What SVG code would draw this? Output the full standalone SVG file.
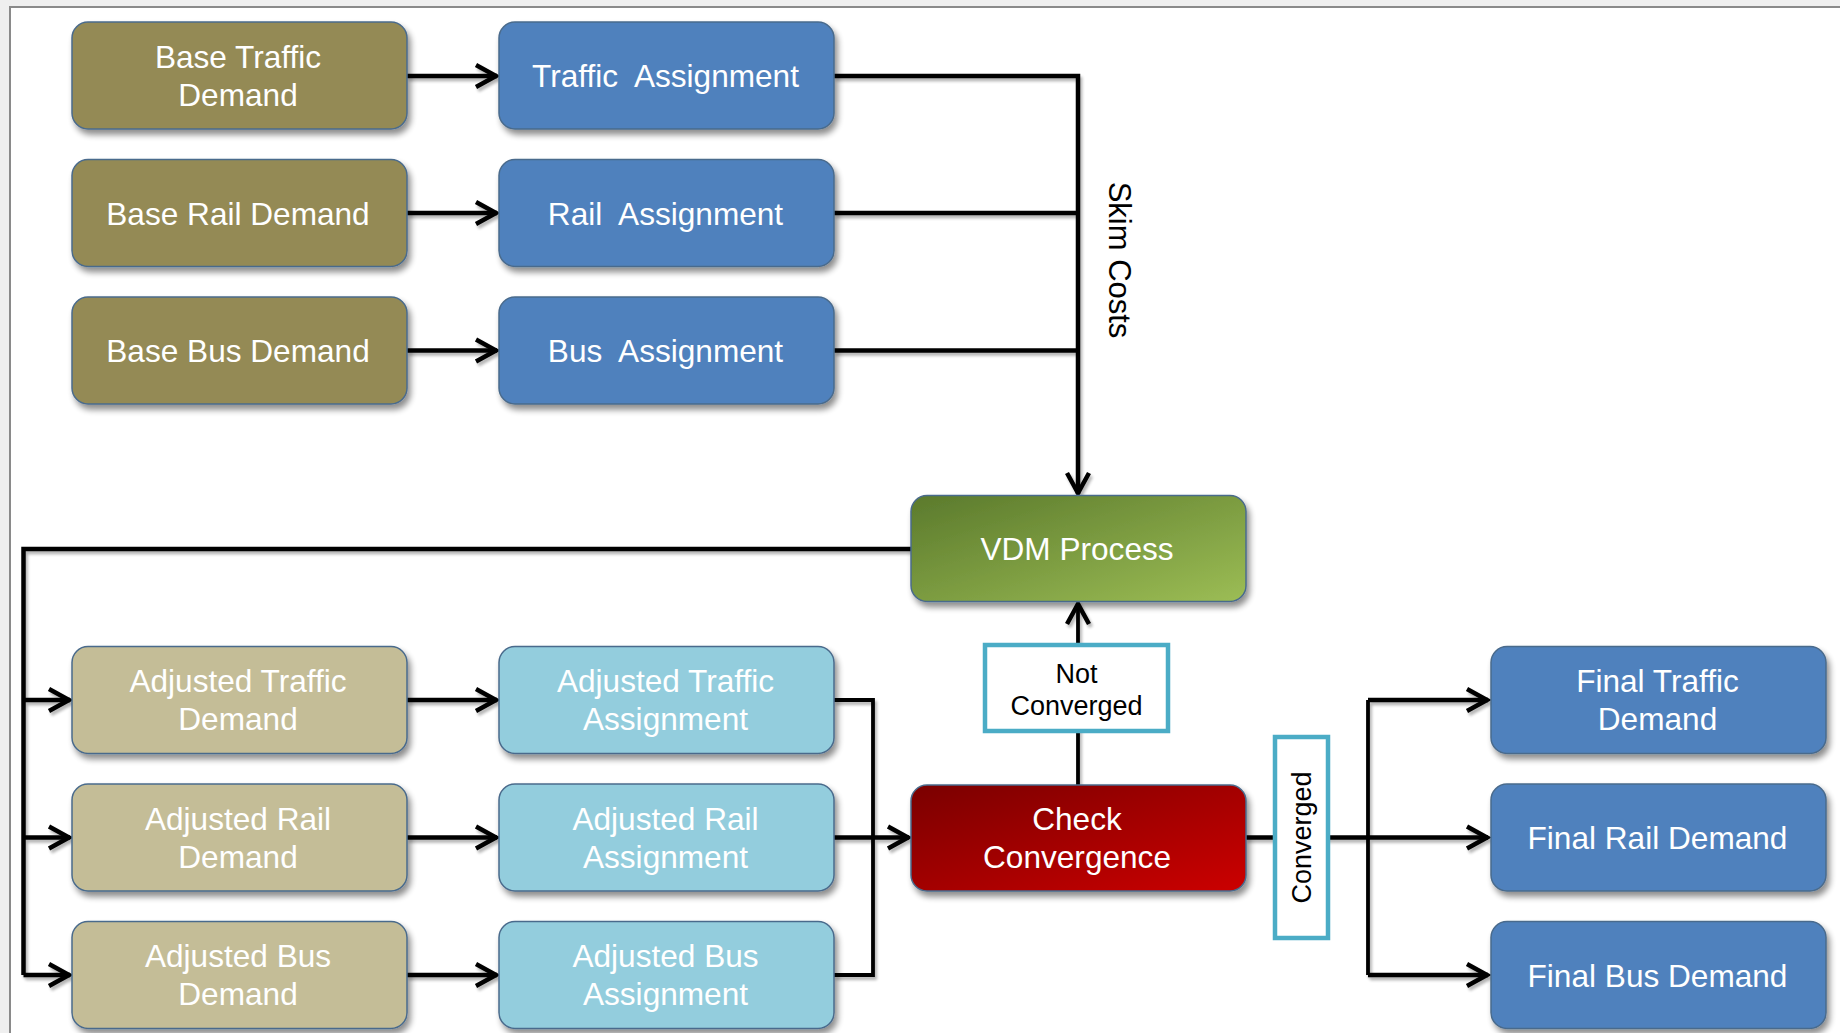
<svg xmlns="http://www.w3.org/2000/svg" width="1840" height="1033" viewBox="0 0 1840 1033">
<style>
.node{stroke:#4a6b8c;stroke-width:1.5;filter:url(#sh)}
.olive{fill:#948A54}
.blue{fill:#4F81BD}
.tan{fill:#C4BD97}
.lblue{fill:#93CDDD}
.t{font-family:"Liberation Sans",Arial,sans-serif;font-size:31.6px;fill:#ffffff;text-anchor:middle;white-space:pre}
.lbl{font-family:"Liberation Sans",Arial,sans-serif;font-size:27px;fill:#000000;text-anchor:middle}
.c{fill:none;stroke:#000;stroke-width:4.5;stroke-linejoin:miter}
.c3{fill:none;stroke:#000;stroke-width:3.8}
.lbox{fill:#ffffff;stroke:#4BACC6;stroke-width:4.5}
</style>
<defs>
<filter id="sh" x="-10%" y="-10%" width="130%" height="140%">
<feGaussianBlur in="SourceAlpha" stdDeviation="3"/>
<feOffset dx="3" dy="5" result="b"/>
<feComponentTransfer><feFuncA type="linear" slope="0.45"/></feComponentTransfer>
<feMerge><feMergeNode/><feMergeNode in="SourceGraphic"/></feMerge>
</filter>
<filter id="lsh" x="-5%" y="-5%" width="110%" height="110%">
<feGaussianBlur in="SourceAlpha" stdDeviation="1.5"/>
<feOffset dx="2" dy="3" result="b"/>
<feComponentTransfer><feFuncA type="linear" slope="0.3"/></feComponentTransfer>
<feMerge><feMergeNode/><feMergeNode in="SourceGraphic"/></feMerge>
</filter>
<linearGradient id="gGreen" x1="0" y1="0" x2="1" y2="1">
<stop offset="0" stop-color="#5B7A2C"/>
<stop offset="1" stop-color="#9CBD55"/>
</linearGradient>
<linearGradient id="gRed" x1="0" y1="0" x2="1" y2="1">
<stop offset="0" stop-color="#7A0000"/>
<stop offset="1" stop-color="#CC0000"/>
</linearGradient>
<marker id="arr" markerUnits="userSpaceOnUse" viewBox="-26 -14 30 28" refX="0" refY="0" markerWidth="30" markerHeight="28" orient="auto" overflow="visible">
<path d="M-21,-11 L-1,0 L-21,11" fill="none" stroke="#000" stroke-width="4.5"/>
</marker>
</defs>
<rect x="0" y="0" width="1840" height="1033" fill="#efefef"/>
<rect x="10" y="7" width="1850" height="1050" fill="#ffffff" stroke="#8a8a8a" stroke-width="2"/>

<g id="connectors" filter="url(#lsh)">
<path class="c" d="M407,76 H497" marker-end="url(#arr)"/>
<path class="c" d="M407,213 H497" marker-end="url(#arr)"/>
<path class="c" d="M407,350.5 H497" marker-end="url(#arr)"/>
<path class="c" d="M834,76 H1078 V494" marker-end="url(#arr)"/>
<path class="c" d="M834,213 H1078"/>
<path class="c" d="M834,350.5 H1078"/>
<path class="c" d="M911,549 H23.5 V975"/>
<path class="c" d="M23.5,700 H70" marker-end="url(#arr)"/>
<path class="c" d="M23.5,837.5 H70" marker-end="url(#arr)"/>
<path class="c" d="M23.5,975 H70" marker-end="url(#arr)"/>
<path class="c" d="M407,700 H497" marker-end="url(#arr)"/>
<path class="c" d="M407,837.5 H497" marker-end="url(#arr)"/>
<path class="c" d="M407,975 H497" marker-end="url(#arr)"/>
<path class="c3" d="M834,700 H873 V975 H834"/>
<path class="c" d="M834,837.5 H909" marker-end="url(#arr)"/>
<path class="c3" d="M1078,785 V603" marker-end="url(#arr)"/>
<path class="c" d="M1245.5,837.5 H1368"/>
<path class="c3" d="M1368,700 V975"/>
<path class="c" d="M1368,700 H1488" marker-end="url(#arr)"/>
<path class="c" d="M1368,837.5 H1488" marker-end="url(#arr)"/>
<path class="c" d="M1368,975 H1488" marker-end="url(#arr)"/>
</g>

<g id="skim-costs-label">
<text class="lbl" style="font-size:31px" transform="translate(1109,260) rotate(90)">Skim Costs</text>
</g>

<g id="base-traffic-demand">
<rect class="node olive" x="72" y="22" width="335" height="107" rx="16"/>
<text class="t" x="238" y="68">Base Traffic</text>
<text class="t" x="238" y="106">Demand</text>
</g>
<g id="traffic-assignment">
<rect class="node blue" x="499" y="22" width="335" height="107" rx="16"/>
<text class="t" x="665.5" y="87">Traffic  Assignment</text>
</g>
<g id="base-rail-demand">
<rect class="node olive" x="72" y="159.5" width="335" height="107" rx="16"/>
<text class="t" x="238" y="224.5">Base Rail Demand</text>
</g>
<g id="rail-assignment">
<rect class="node blue" x="499" y="159.5" width="335" height="107" rx="16"/>
<text class="t" x="665.5" y="224.5">Rail  Assignment</text>
</g>
<g id="base-bus-demand">
<rect class="node olive" x="72" y="297" width="335" height="107" rx="16"/>
<text class="t" x="238" y="362">Base Bus Demand</text>
</g>
<g id="bus-assignment">
<rect class="node blue" x="499" y="297" width="335" height="107" rx="16"/>
<text class="t" x="665.5" y="362">Bus  Assignment</text>
</g>

<g id="vdm-process">
<rect class="node" fill="url(#gGreen)" x="911" y="495.5" width="335" height="106" rx="16"/>
<text class="t" x="1077" y="560">VDM Process</text>
</g>

<g id="adjusted-traffic-demand">
<rect class="node tan" x="72" y="646.5" width="335" height="107" rx="16"/>
<text class="t" x="238" y="692">Adjusted Traffic</text>
<text class="t" x="238" y="730">Demand</text>
</g>
<g id="adjusted-traffic-assignment">
<rect class="node lblue" x="499" y="646.5" width="335" height="107" rx="16"/>
<text class="t" x="665.5" y="692">Adjusted Traffic</text>
<text class="t" x="665.5" y="730">Assignment</text>
</g>
<g id="adjusted-rail-demand">
<rect class="node tan" x="72" y="784" width="335" height="107" rx="16"/>
<text class="t" x="238" y="829.5">Adjusted Rail</text>
<text class="t" x="238" y="867.5">Demand</text>
</g>
<g id="adjusted-rail-assignment">
<rect class="node lblue" x="499" y="784" width="335" height="107" rx="16"/>
<text class="t" x="665.5" y="829.5">Adjusted Rail</text>
<text class="t" x="665.5" y="867.5">Assignment</text>
</g>
<g id="adjusted-bus-demand">
<rect class="node tan" x="72" y="921.5" width="335" height="107" rx="16"/>
<text class="t" x="238" y="967">Adjusted Bus</text>
<text class="t" x="238" y="1005">Demand</text>
</g>
<g id="adjusted-bus-assignment">
<rect class="node lblue" x="499" y="921.5" width="335" height="107" rx="16"/>
<text class="t" x="665.5" y="967">Adjusted Bus</text>
<text class="t" x="665.5" y="1005">Assignment</text>
</g>

<g id="check-convergence">
<rect class="node" fill="url(#gRed)" x="911" y="785" width="335" height="106" rx="16"/>
<text class="t" x="1077" y="830">Check</text>
<text class="t" x="1077" y="868">Convergence</text>
</g>

<g id="not-converged-label">
<rect class="lbox" x="985" y="645" width="183" height="86"/>
<text class="lbl" x="1076.5" y="683">Not</text>
<text class="lbl" x="1076.5" y="715">Converged</text>
</g>

<g id="converged-label">
<rect class="lbox" x="1275" y="737" width="53" height="201"/>
<text class="lbl" transform="translate(1311,837.5) rotate(-90)">Converged</text>
</g>

<g id="final-traffic-demand">
<rect class="node blue" x="1491" y="646.5" width="335" height="107" rx="16"/>
<text class="t" x="1657.5" y="692">Final Traffic</text>
<text class="t" x="1657.5" y="730">Demand</text>
</g>
<g id="final-rail-demand">
<rect class="node blue" x="1491" y="784" width="335" height="107" rx="16"/>
<text class="t" x="1657.5" y="849">Final Rail Demand</text>
</g>
<g id="final-bus-demand">
<rect class="node blue" x="1491" y="921.5" width="335" height="107" rx="16"/>
<text class="t" x="1657.5" y="986.5">Final Bus Demand</text>
</g>
</svg>
